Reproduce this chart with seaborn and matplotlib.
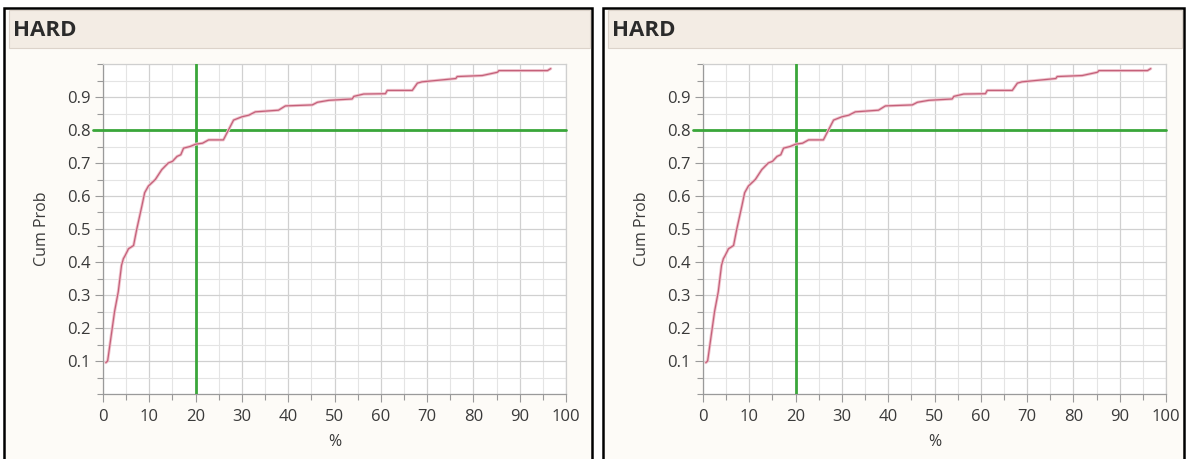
import numpy as np
import pandas as pd
import matplotlib
matplotlib.use("Agg")
import matplotlib.pyplot as plt
from matplotlib.patches import Rectangle
from matplotlib.ticker import MultipleLocator, FixedLocator
import seaborn as sns

# ---- data ----
pct = [0.6, 1.0, 1.9, 2.5, 3.3, 4.0, 4.4, 4.8, 5.5, 6.6, 7.3, 8.4, 9.0, 9.8,
       11.3, 12.7, 14.1, 15.0, 16.0, 16.8, 17.4, 18.8, 20.0, 21.5, 22.8, 26.0,
       27.1, 28.2, 30.0, 31.5, 32.9, 37.9, 39.4, 45.2, 46.3, 48.8, 53.8, 54.2,
       56.3, 61.0, 61.4, 66.8, 67.9, 68.9, 71.9, 76.2, 76.5, 81.9, 85.2, 85.5,
       96.0, 96.7]
cum_prob = [0.095, 0.10, 0.19, 0.25, 0.31, 0.39, 0.41, 0.42, 0.44, 0.45, 0.50,
            0.57, 0.61, 0.63, 0.65, 0.68, 0.70, 0.705, 0.72, 0.725, 0.745, 0.75,
            0.757, 0.76, 0.77, 0.77, 0.80, 0.83, 0.84, 0.845, 0.855, 0.86, 0.873,
            0.876, 0.884, 0.89, 0.894, 0.902, 0.909, 0.91, 0.92, 0.92, 0.942,
            0.946, 0.95, 0.956, 0.962, 0.965, 0.975, 0.98, 0.98, 0.986]
ref_x = 20
ref_y = 0.8
panel_titles = ["HARD", "HARD"]
x_ticks = [0, 10, 20, 30, 40, 50, 60, 70, 80, 90, 100]
y_ticks = [0.1, 0.2, 0.3, 0.4, 0.5, 0.6, 0.7, 0.8, 0.9]

df = pd.DataFrame({"%": pct, "Cum Prob": cum_prob})

sns.set_theme(style="white")
plt.rcParams["font.family"] = ["Open Sans", "DejaVu Sans"]

W, H = 1186, 459
fig = plt.figure(figsize=(W / 100, H / 100), dpi=100)
fig.patch.set_facecolor("white")


def fx(px):
    return px / W


def fy(py):
    return 1 - py / H


panel_offsets = [0, 600]
panel_bounds = [(4, 592), (603, 1184)]

for i, off in enumerate(panel_offsets):
    x0, x1 = panel_bounds[i]
    # panel background and black frame
    fig.patches.append(Rectangle((fx(x0), fy(460)), fx(x1 - x0), (460 - 8) / H,
                                 transform=fig.transFigure, facecolor="#fdfbf7",
                                 edgecolor="black", linewidth=1.8, zorder=-10))
    # header band
    fig.patches.append(Rectangle((fx(x0 + 5), fy(48)), fx(x1 - x0 - 7), 38 / H,
                                 transform=fig.transFigure, facecolor="#f3ece4",
                                 edgecolor="#dcd3ca", linewidth=0.8, zorder=-5))
    fig.text(fx(x0 + 9), fy(30), panel_titles[i], fontsize=16, fontweight="bold",
             color="#2b2b2b", va="center", ha="left",
             family=["Open Sans", "DejaVu Sans"])

    ax = fig.add_axes([fx(103 + off), fy(394), fx(463), 330 / H])
    ax.set_zorder(2)
    ax.set_facecolor("white")
    ax.set_xlim(0, 100)
    ax.set_ylim(0, 1.0)

    ax.xaxis.set_major_locator(FixedLocator(x_ticks))
    ax.xaxis.set_minor_locator(MultipleLocator(5))
    ax.yaxis.set_major_locator(FixedLocator(y_ticks))
    ax.yaxis.set_minor_locator(MultipleLocator(0.05))

    ax.grid(which="major", color="#d0d0d0", linewidth=0.9)
    ax.grid(which="minor", color="#e4e4e4", linewidth=0.8)
    ax.set_axisbelow(True)

    for side in ["top", "right"]:
        ax.spines[side].set_color("#cfcfcf")
        ax.spines[side].set_linewidth(0.9)
    for side in ["bottom", "left"]:
        ax.spines[side].set_color("#9a9a9a")
        ax.spines[side].set_linewidth(0.9)

    ax.tick_params(which="both", direction="out", color="#9a9a9a",
                   bottom=True, left=True, width=0.8)
    ax.tick_params(which="major", length=6, labelsize=12, labelcolor="#3a3a3a", pad=3)
    ax.tick_params(axis="x", which="major", pad=5)
    ax.tick_params(which="minor", length=4)
    ax.set_xticklabels([str(t) for t in x_ticks])
    ax.set_yticklabels([f"{t:.1f}" for t in y_ticks])

    # reference lines
    ax.axvline(ref_x, color="#3aa63a", linewidth=2.0, zorder=3)
    ax.axhline(ref_y, xmin=-0.022, xmax=1.0, color="#3aa63a", linewidth=2.0,
               zorder=3, clip_on=False)

    sns.lineplot(data=df, x="%", y="Cum Prob", ax=ax, sort=False, estimator=None,
                 color="#efc3cc", linewidth=2.2, zorder=4)
    sns.lineplot(data=df, x="%", y="Cum Prob", ax=ax, sort=False, estimator=None,
                 color="#c4607a", linewidth=0.9, zorder=5)

    ax.set_xlabel("%", fontsize=11.5, color="#3a3a3a", labelpad=6)
    ax.set_ylabel("Cum Prob", fontsize=11.5, color="#3a3a3a", labelpad=12)

fig.savefig("out.png", dpi=100)
